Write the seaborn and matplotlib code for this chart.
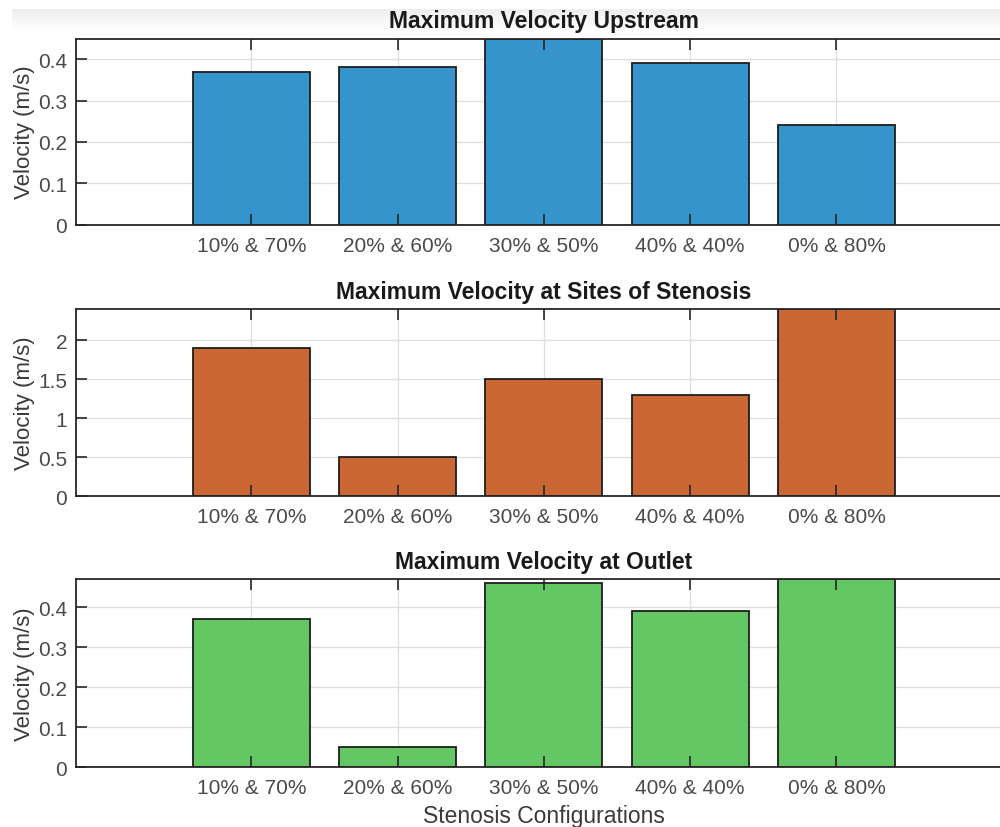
import numpy as np
import pandas as pd
import matplotlib
matplotlib.use("Agg")
import matplotlib.pyplot as plt
import seaborn as sns

# Stenosis configurations and peak velocities (m/s)
configs = ["10% & 70%", "20% & 60%", "30% & 50%", "40% & 40%", "0% & 80%"]
upstream = [0.37, 0.38, 0.45, 0.39, 0.24]
stenosis = [1.90, 0.50, 1.50, 1.30, 2.40]
outlet = [0.37, 0.05, 0.46, 0.39, 0.47]

titles = ["Maximum Velocity Upstream",
          "Maximum Velocity at Sites of Stenosis",
          "Maximum Velocity at Outlet"]
ytick_sets = [[0, 0.1, 0.2, 0.3, 0.4],
              [0, 0.5, 1, 1.5, 2],
              [0, 0.1, 0.2, 0.3, 0.4]]
ytick_labels = [["0", "0.1", "0.2", "0.3", "0.4"],
                ["0", "0.5", "1", "1.5", "2"],
                ["0", "0.1", "0.2", "0.3", "0.4"]]
ymax = [0.45, 2.4, 0.47]
colors = ["#3594CB", "#CB6732", "#63C864"]

sns.set_theme(style="white")
plt.rcParams["font.family"] = ["Liberation Sans", "DejaVu Sans"]

W, H = 1000, 828
fig = plt.figure(figsize=(W / 100, H / 100), dpi=100)

# faint shaded strip along the top edge
band = fig.add_axes([12 / W, 1 - 34 / H, 1 - 12 / W, 24 / H])
grad = np.linspace(0, 1, 64).reshape(-1, 1)
band.imshow(grad, aspect="auto", cmap=matplotlib.colors.LinearSegmentedColormap.from_list(
    "shade", ["#eeeeee", "#f7f7f7", "#ffffff"]), extent=[0, 1, 0, 1])
band.set_axis_off()

# axes boxes in pixels: (top, bottom)
boxes = [(39.5, 225.7), (310.0, 497.3), (580.0, 768.3)]
left_px, right_px = 75.7, 1012.0

series = [upstream, stenosis, outlet]
for i, (vals, (top, bot)) in enumerate(zip(series, boxes)):
    rect = [left_px / W, 1 - bot / H, (right_px - left_px) / W, (bot - top) / H]
    ax = fig.add_axes(rect)
    df = pd.DataFrame({"config": configs, "velocity": vals})
    sns.barplot(data=df, x="config", y="velocity", color=colors[i], saturation=1,
                width=0.8, edgecolor="#1e1e1e", linewidth=1.3, ax=ax)
    ax.set_xlim(-1.2, 5.2)
    ax.set_ylim(0, ymax[i])
    ax.set_yticks(ytick_sets[i])
    ax.set_yticklabels(ytick_labels[i])
    ax.set_axisbelow(True)
    ax.grid(True, color="#dedede", linewidth=0.9)
    ax.tick_params(axis="x", length=0, labelsize=15, labelcolor="#4a4a4a", pad=8)
    ax.tick_params(axis="y", length=0, labelsize=15, labelcolor="#4a4a4a", pad=6)
    ax.set_xlabel("Stenosis Configurations" if i == 2 else "", fontsize=16.5, color="#3a3a3a",
                  labelpad=5)
    ax.set_ylabel("Velocity (m/s)", fontsize=16, color="#3a3a3a", labelpad=2)
    ax.set_title(titles[i], fontsize=16.5, fontweight="bold", color="#1a1a1a", pad=8)
    for s in ax.spines.values():
        s.set_visible(False)

    # overlay carrying the box and inward ticks, drawn above the bars
    ov = fig.add_axes(rect, sharex=ax, sharey=ax)
    ov.patch.set_visible(False)
    ov.grid(False)
    ov.tick_params(axis="both", direction="in", length=8, width=1.2, color="#262626",
                   top=True, right=False, bottom=True, left=True,
                   labelbottom=False, labelleft=False)
    for name, s in ov.spines.items():
        s.set_visible(name != "right")
        s.set_color("#262626")
        s.set_linewidth(1.3)
    ov.set_xlabel("")
    ov.set_ylabel("")

fig.savefig("out.png", dpi=100)
